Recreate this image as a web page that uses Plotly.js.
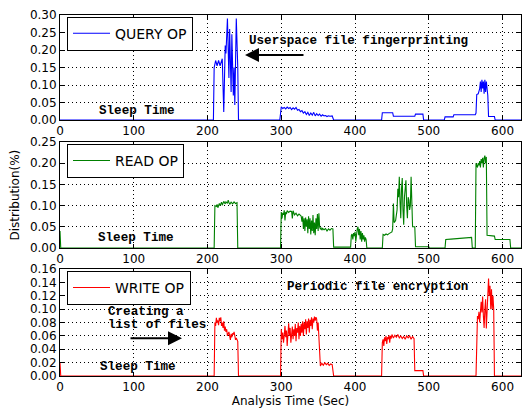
<!DOCTYPE html>
<html>
<head>
<meta charset="utf-8">
<script src="https://cdn.plot.ly/plotly-3.0.1.min.js"></script>
<style>html,body{margin:0;padding:0;background:#fff;}#chart{width:522px;height:408px;}</style>
</head>
<body>
<div id="chart"></div>
<script>
// ---- Data (time in seconds, distribution values) ----
const queryT = [0,208,209,211,213,215,217,219,220,222,224,225,227,229,230,232,233,235,236,237,239,241,242,
  298,299,300,302,304,306,308,310,312,314,316,318,320,322,324,326,328,330,332,334,336,338,340,342,344,346,348,350,352,354,356,358,360,362,364,366,369,371,
  436,437,451,452,481,482,492,493,
  521,522,533,534,563,564,565,567,569,570,571,572,573,574,575,576,577,578,579,580,581,589,590,625];
const queryV = [0,0,0.15,0.17,0.155,0.17,0.155,0.165,0.175,0.023,0.213,0.19,0.29,0.12,0.26,0.08,0.245,0.07,0.15,0.043,0.29,0.15,0,
  0,0.035,0.038,0.033,0.036,0.032,0.037,0.033,0.036,0.030,0.035,0.031,0.036,0.028,0.030,0.024,0.027,0.020,0.024,0.016,0.022,0.013,0.020,0.014,0.022,0.012,0.018,0.013,0.017,0.011,0.015,0.012,0.013,0.010,0.012,0.011,0.012,0,
  0,0.021,0.021,0.011,0.011,0.017,0.017,0,
  0,0.009,0.009,0.015,0.015,0.02,0.073,0.075,0.09,0.11,0.08,0.115,0.09,0.11,0.075,0.115,0.08,0.11,0.09,0.07,0.01,0.01,0,0];

const readT = [0,1,209,210,212,213,214,216,217,219,220,222,224,225,227,228,230,232,234,236,238,240,241,
  299,300,301,302,303,304,305,306,307,308,310,312,314,315,316,318,320,322,324,326,327,328,329,330,331,332,333,334,335,336,337,338,339,340,341,342,343,344,345,346,347,348,349,350,351,352,353,354,355,356,358,360,362,364,366,368,370,371,394,
  395,396,397,398,399,400,401,402,403,404,405,406,407,408,409,410,411,412,413,414,415,416,
  437,438,440,442,444,446,448,450,451,452,453,455,457,458,459,460,461,462,463,464,465,466,467,469,470,471,472,473,474,475,476,477,478,481,482,500,501,
  522,523,530,540,550,558,559,563,564,566,567,568,569,570,571,572,573,574,575,576,577,578,579,589,590,610,611,625];
const readV = [0.04,0,0,0.10,0.098,0.103,0.095,0.105,0.10,0.108,0.101,0.11,0.104,0.109,0.105,0.113,0.103,0.108,0.104,0.109,0.105,0.107,0,
  0,0.085,0.07,0.083,0.078,0.089,0.065,0.085,0.08,0.088,0.084,0.087,0.086,0.07,0.088,0.078,0.082,0.076,0.08,0.077,0.075,0.062,0.075,0.045,0.07,0.04,0.072,0.05,0.068,0.035,0.075,0.045,0.07,0.032,0.065,0.04,0.078,0.035,0.06,0.03,0.07,0.045,0.08,0.04,0.082,0.05,0.045,0.047,0.042,0.046,0.043,0.046,0.04,0.045,0.042,0.046,0.045,0.002,0.002,
  0.03,0.033,0.02,0.035,0.028,0.038,0.015,0.04,0.045,0.05,0.03,0.045,0.02,0.04,0.015,0.035,0.02,0.03,0.015,0.025,0.02,0,
  0,0.032,0.03,0.033,0.031,0.034,0.036,0.038,0.045,0.105,0.06,0.065,0.09,0.14,0.12,0.168,0.11,0.07,0.14,0.165,0.09,0.055,0.12,0.16,0.1,0.07,0.12,0.113,0.09,0.1,0.168,0.11,0.05,0.05,0.003,0.003,0,
  0,0.02,0.021,0.022,0.024,0.025,0,0,0.2,0.19,0.2,0.195,0.205,0.19,0.21,0.2,0.213,0.19,0.212,0.218,0.2,0.215,0.03,0.028,0.02,0.02,0,0];

const writeT = [0,1,209,210,211,212,213,214,215,216,217,218,219,220,221,222,223,224,225,226,227,228,229,230,231,232,233,234,235,236,237,238,239,240,241,242,
  299,300,301,302,303,304,305,306,307,308,309,310,311,312,313,314,315,316,317,318,319,320,321,322,323,324,325,326,327,328,329,330,331,332,333,334,335,336,337,338,339,340,341,342,343,344,345,346,347,348,349,350,351,352,353,355,357,359,361,363,365,367,369,371,
  436,437,438,439,440,441,442,443,444,445,446,447,448,449,450,452,454,456,458,460,462,464,466,468,470,472,474,476,478,480,481,492,493,
  564,565,566,567,568,569,570,571,572,573,574,575,576,577,578,579,580,581,582,583,584,585,586,587,588,589,625];
const writeV = [0.02,0,0,0.08,0.075,0.087,0.08,0.083,0.076,0.087,0.082,0.088,0.075,0.08,0.072,0.082,0.068,0.074,0.066,0.07,0.06,0.062,0.066,0.06,0.054,0.063,0.058,0.064,0.062,0.066,0.056,0.054,0.057,0.054,0.052,0,
  0,0.07,0.055,0.065,0.05,0.06,0.075,0.058,0.068,0.045,0.07,0.079,0.06,0.072,0.05,0.065,0.074,0.055,0.07,0.06,0.078,0.052,0.072,0.065,0.08,0.055,0.075,0.06,0.078,0.065,0.082,0.06,0.08,0.07,0.085,0.062,0.082,0.072,0.086,0.065,0.084,0.075,0.088,0.07,0.086,0.08,0.089,0.083,0.088,0.085,0.068,0.08,0.06,0.02,0.015,0.019,0.016,0.02,0.017,0.019,0.016,0.018,0.017,0,
  0,0.05,0.055,0.045,0.058,0.052,0.06,0.048,0.058,0.055,0.061,0.05,0.06,0.056,0.062,0.057,0.061,0.058,0.062,0.057,0.06,0.056,0.059,0.055,0.06,0.057,0.06,0.055,0.059,0.056,0.008,0.008,0,
  0,0.079,0.09,0.085,0.096,0.08,0.1,0.111,0.095,0.119,0.09,0.072,0.1,0.115,0.071,0.1,0.13,0.146,0.12,0.135,0.1,0.13,0.1,0.12,0.1,0,0];

const seriesNames = ['QUERY OP','READ OP','WRITE OP'];
const seriesColors = ['#0000ff','#008000','#ff0000'];
const xTicks = [0,100,200,300,400,500,600];
const yTicksTop = [0,0.05,0.10,0.15,0.20,0.25,0.30];
const yTicksMid = [0,0.05,0.10,0.15,0.20,0.25];
const yTicksBot = [0,0.02,0.04,0.06,0.08,0.10,0.12,0.14,0.16];

const tickFont = {family:'DejaVu Sans', size:12, color:'#000'};
const annFont = {family:'Liberation Mono', size:12.6, color:'#000'};

const traces = [
  {x:queryT, y:queryV, xaxis:'x', yaxis:'y', legend:'legend'},
  {x:readT, y:readV, xaxis:'x2', yaxis:'y2', legend:'legend2'},
  {x:writeT, y:writeV, xaxis:'x3', yaxis:'y3', legend:'legend3'}
].map((t,i)=>Object.assign(t,{type:'scatter', mode:'lines', name:seriesNames[i],
  line:{color:seriesColors[i], width:1.1}, showlegend:true}));

function xax(anchor){
  return {anchor:anchor, range:[0,625], tickvals:xTicks, ticktext:xTicks.map(String),
    ticks:'inside', ticklen:4, tickcolor:'#000', mirror:'ticks', showline:true, linecolor:'#000', linewidth:1,
    showgrid:true, gridcolor:'#000', griddash:'1px,3px', gridwidth:1, zeroline:false, tickfont:tickFont, automargin:false};
}
function yax(anchor, dom, rng, vals){
  return {anchor:anchor, domain:dom, range:rng, tickvals:vals, ticktext:vals.map(v=>v.toFixed(2)),
    ticks:'inside', ticklen:4, tickcolor:'#000', mirror:'ticks', showline:true, linecolor:'#000', linewidth:1,
    showgrid:true, gridcolor:'#000', griddash:'1px,3px', gridwidth:1, zeroline:false, tickfont:tickFont, automargin:false};
}
const legBase = {xref:'paper', yref:'paper', xanchor:'left', yanchor:'middle', bgcolor:'#fff', bordercolor:'#000', borderwidth:1,
  itemwidth:37, font:{family:'DejaVu Sans', size:14, color:'#000'}};

const layout = {
  width:522, height:408, margin:{l:60, r:1, t:15, b:32},
  paper_bgcolor:'#fff', plot_bgcolor:'#fff',
  xaxis: xax('y'),
  xaxis2: xax('y2'),
  xaxis3: Object.assign(xax('y3'), {title:{text:'Analysis Time (Sec)', font:{family:'DejaVu Sans', size:12, color:'#000'}, standoff:2}}),
  yaxis: yax('x', [0.709,1], [0,0.30], yTicksTop),
  yaxis2: yax('x2', [0.3546,0.648], [0,0.25], yTicksMid),
  yaxis3: yax('x3', [0,0.296], [0,0.16], yTicksBot),
  legend: Object.assign({}, legBase, {x:0.0152, y:0.9482}),
  legend2: Object.assign({}, legBase, {x:0.0152, y:0.596}),
  legend3: Object.assign({}, legBase, {x:0.0152, y:0.2442}),
  annotations: [
    {xref:'paper', yref:'paper', x:0, y:0.5, xshift:-46, text:'Distribution(%)', textangle:-90, showarrow:false,
     font:{family:'DejaVu Sans', size:12, color:'#000'}, xanchor:'center', yanchor:'middle'},
    {xref:'x', yref:'y', x:253.5, y:0.2266, text:'<b>Userspace file fingerprinting</b>', showarrow:false, xanchor:'left', yanchor:'middle', font:annFont},
    {xref:'x', yref:'y', x:250.8, y:0.186, text:'', showarrow:true, ax:60, ay:0, arrowhead:2, arrowsize:1.4, arrowwidth:2, arrowcolor:'#000'},
    {xref:'x', yref:'y', x:104.4, y:0.0257, text:'<b>Sleep Time</b>', showarrow:false, xanchor:'center', yanchor:'middle', font:annFont},
    {xref:'x2', yref:'y2', x:103, y:0.0237, text:'<b>Sleep Time</b>', showarrow:false, xanchor:'center', yanchor:'middle', font:annFont},
    {xref:'x3', yref:'y3', x:105.7, y:0.0139, text:'<b>Sleep Time</b>', showarrow:false, xanchor:'center', yanchor:'middle', font:annFont},
    {xref:'x3', yref:'y3', x:62.4, y:0.0964, text:'<b>Creating a</b>', showarrow:false, xanchor:'left', yanchor:'middle', font:annFont},
    {xref:'x3', yref:'y3', x:62.4, y:0.0765, text:'<b>list of files</b>', showarrow:false, xanchor:'left', yanchor:'middle', font:annFont},
    {xref:'x3', yref:'y3', x:165.4, y:0.0565, text:'', showarrow:true, ax:-53, ay:0, arrowhead:2, arrowsize:1.4, arrowwidth:2, arrowcolor:'#000'},
    {xref:'x3', yref:'y3', x:305, y:0.1339, text:'<b>Periodic file encryption</b>', showarrow:false, xanchor:'left', yanchor:'middle', font:annFont}
  ]
};

Plotly.newPlot('chart', traces, layout, {displayModeBar:false, staticPlot:true});
</script>
</body>
</html>
